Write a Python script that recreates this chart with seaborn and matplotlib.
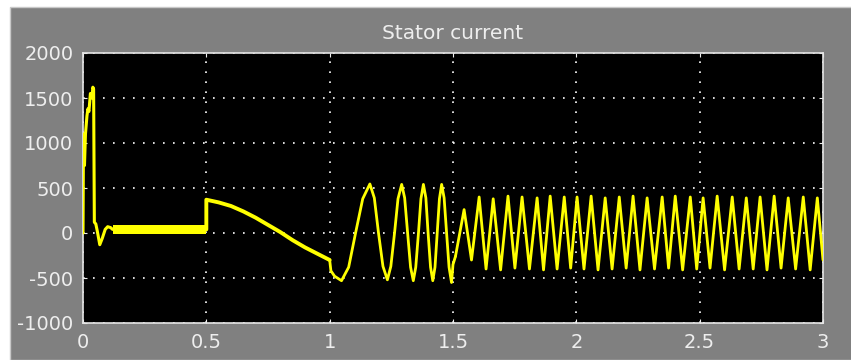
import numpy as np
import pandas as pd
import matplotlib
matplotlib.use("Agg")
import matplotlib.pyplot as plt
from matplotlib.patches import Rectangle
import seaborn as sns

# start-up transient (0 - 0.12 s)
t_start = [0.0, 0.002, 0.006, 0.010, 0.016, 0.020, 0.024, 0.030, 0.036, 0.040, 0.043, 0.046,
           0.052, 0.058, 0.068, 0.078, 0.090, 0.100, 0.112, 0.120]
i_start = [0, 1100, 750, 1100, 1300, 1380, 1350, 1550, 1500, 1620, 1600, 120,
           100, 20, -130, -60, 40, 70, 60, 40]

# steady band 0.12 - 0.5 s (fast ripple between low and high)
t_band = [0.12, 0.50]
band_low = [-15, -15]
band_high = [85, 85]

# step at 0.5 s and slow decay to 1.0 s
t_ramp = [0.50, 0.50, 0.55, 0.60, 0.65, 0.70, 0.75, 0.80, 0.85, 0.90, 0.95, 1.00]
i_ramp = [40, 370, 340, 300, 240, 170, 90, 10, -80, -160, -230, -300]

# oscillation 1.0 - 1.5 s
t_osc = [1.000, 1.005, 1.020, 1.048, 1.077, 1.105, 1.134, 1.163, 1.181, 1.198, 1.216, 1.234,
         1.248, 1.263, 1.277, 1.292, 1.304, 1.316, 1.328, 1.339, 1.349, 1.360, 1.370, 1.380,
         1.390, 1.399, 1.409, 1.418, 1.427, 1.436, 1.445, 1.454, 1.464, 1.474, 1.484, 1.494,
         1.500, 1.510]
i_osc = [-300, -420, -480, -530, -380, 0, 380, 545, 390, 0, -370, -520,
         -370, 0, 380, 540, 390, 0, -380, -530, -380, 0, 380, 540,
         390, 0, -380, -530, -380, 0, 380, 540, 390, 0, -380, -550,
         -350, -260]

# after 1.5 s: peaks and troughs
t_peaks = [1.545, 1.606, 1.663, 1.723, 1.780, 1.841, 1.894, 1.951, 2.003, 2.060, 2.117, 2.174, 2.230,
           2.287, 2.348, 2.401, 2.462, 2.514, 2.571, 2.632, 2.689, 2.745, 2.802, 2.859, 2.920, 2.977]
i_peaks = [260, 400, 380, 410, 400, 390, 410, 400, 400, 410, 390, 400, 410,
           390, 400, 410, 400, 390, 410, 400, 390, 400, 410, 390, 400, 390]
t_troughs = [1.575, 1.634, 1.693, 1.751, 1.810, 1.867, 1.922, 1.977, 2.031, 2.088, 2.145, 2.202, 2.258,
             2.317, 2.374, 2.431, 2.488, 2.542, 2.601, 2.660, 2.717, 2.773, 2.830, 2.889, 2.948, 3.000]
i_troughs = [-300, -400, -410, -390, -400, -410, -400, -390, -400, -410, -400, -390, -410,
             -400, -390, -410, -400, -390, -410, -400, -400, -410, -390, -400, -410, -300]

x_ticks = [0, 0.5, 1, 1.5, 2, 2.5, 3]
x_labels = ["0", "0.5", "1", "1.5", "2", "2.5", "3"]
y_ticks = [-1000, -500, 0, 500, 1000, 1500, 2000]
y_labels = ["-1000", "-500", "0", "500", "1000", "1500", "2000"]

sns.set_style("dark")
plt.rcParams["font.family"] = ["DejaVu Sans"]

fig = plt.figure(figsize=(8.51, 3.6), dpi=100, facecolor="white")
fig.patches.append(Rectangle((10 / 851, 0), 1, 353 / 360, transform=fig.transFigure,
                             facecolor="#808080", edgecolor="#c8c8c8", lw=1, zorder=-1))
ax = fig.add_axes([83 / 851, 1 - 323 / 360, 740 / 851, 270 / 360])
ax.set_facecolor("black")

tail = pd.DataFrame({"t": t_peaks + t_troughs, "i": i_peaks + i_troughs}).sort_values("t")
tail = pd.concat([pd.DataFrame({"t": [1.510], "i": [-260]}), tail])

yellow = "#ffff00"
kw = dict(ax=ax, color=yellow, sort=False, estimator=None, zorder=10)
sns.lineplot(x=t_start, y=i_start, lw=2.2, **kw)
ax.fill_between(t_band, band_low, band_high, color=yellow, lw=0, zorder=10)
sns.lineplot(x=t_ramp, y=i_ramp, lw=2.8, **kw)
sns.lineplot(x=t_osc, y=i_osc, lw=2.0, **kw)
sns.lineplot(data=tail, x="t", y="i", lw=2.0, **kw)

ax.set_xlim(0, 3)
ax.set_ylim(-1000, 2000)
ax.set_xticks(x_ticks)
ax.set_xticklabels(x_labels)
ax.set_yticks(y_ticks)
ax.set_yticklabels(y_labels)
ax.set_xlabel("")
ax.set_ylabel("")
ax.grid(True, color="white", linestyle=(0, (1, 5)), lw=1.2)
ax.set_axisbelow(True)
ax.xaxis.set_zorder(0.5)
ax.yaxis.set_zorder(0.5)
ax.tick_params(colors="#eeeeee", labelsize=14, length=3, direction="in",
               top=True, right=True, bottom=True, left=True, pad=7)
for s in ax.spines.values():
    s.set_visible(True)
    s.set_color("#e6e6e6")
    s.set_linewidth(1.2)
ax.set_title("Stator current", color="#eeeeee", fontsize=14.5, pad=10)

fig.savefig("out.png", dpi=100, facecolor=fig.get_facecolor())
